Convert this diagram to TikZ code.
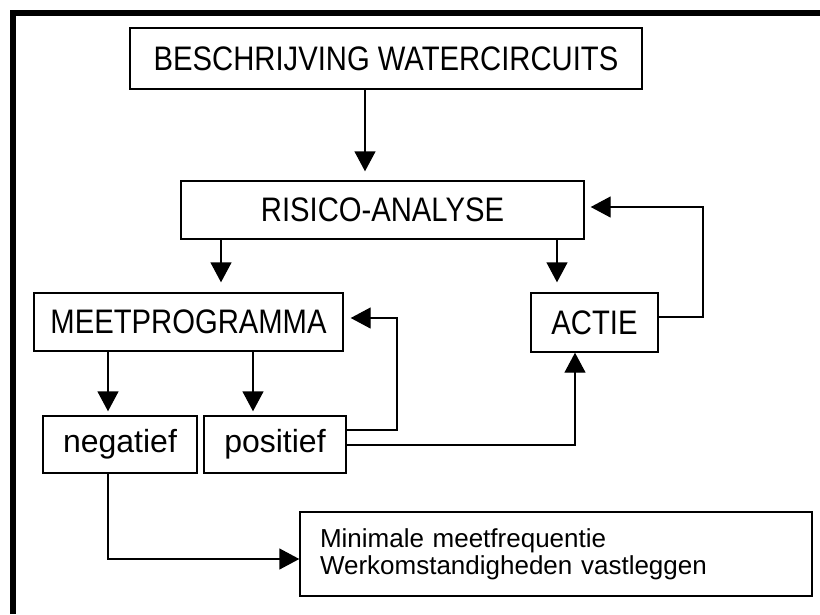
\documentclass[tikz,border=0pt]{standalone}
\usepackage{fontspec}
\setmainfont{Liberation Sans}
\newfontfamily\capsfont[FakeStretch=0.86]{Liberation Sans}
\usetikzlibrary{arrows.meta}

\begin{document}
\begin{tikzpicture}[x=1pt, y=-1pt,
    box/.style={draw, line width=1.4pt, inner sep=0pt, align=center},
    caps/.style={font=\capsfont\fontsize{34pt}{36pt}\selectfont},
    lower/.style={font=\fontsize{32pt}{36pt}\selectfont},
    flow/.style={-{Triangle[width=21pt, length=20pt]}, line width=1.4pt}]
        \useasboundingbox (0,0) rectangle (820,614);

        % Kader
        \draw[line width=6pt] (13,614) -- (13,13) -- (820,13);

        % Blokken
        \node[box, caps, minimum width=512pt, minimum height=61pt] (besch) at (386,58.5) {BESCHRIJVING WATERCIRCUITS};
        \node[box, caps, minimum width=403pt, minimum height=58pt] (risico) at (382.5,210) {RISICO-ANALYSE};
        \node[box, caps, minimum width=309pt, minimum height=58pt] (meet) at (188.5,322) {MEETPROGRAMMA};
        \node[box, caps, minimum width=127pt, minimum height=59pt] (actie) at (594.5,322.5) {ACTIE};
        \node[box, lower, minimum width=154pt, minimum height=57pt] (neg) at (120,444.5) {negatief};
        \node[box, lower, minimum width=142pt, minimum height=57pt] (pos) at (275,444.5) {positief};
        \node[box, align=left, text width=472pt, inner xsep=20pt, minimum height=84pt,
            font=\fontsize{26pt}{27pt}\selectfont] (minimal) at (556,554)
            {Minimale meetfrequentie\\Werkomstandigheden vastleggen};

        % Pijlen naar beneden
        \draw[flow, shorten >=9pt] (besch.south -| 365,0) -- (risico.north -| 365,0);
        \draw[flow, shorten >=10pt] (risico.south -| 221,0) -- (meet.north -| 221,0);
        \draw[flow, shorten >=10pt] (risico.south -| 557,0) -- (actie.north -| 557,0);
        \draw[flow, shorten >=4pt] (meet.south -| 108,0) -- (neg.north -| 108,0);
        \draw[flow, shorten >=4pt] (meet.south -| 253,0) -- (pos.north -| 253,0);

        % Terugkoppelingen
        \draw[flow, shorten >=6pt] (actie.east |- 0,317) -| (703,207) -- (risico.east |- 0,207);
        \draw[flow, shorten >=7pt] (pos.east |- 0,430) -| (397,318) -- (meet.east |- 0,318);
        \draw[flow] (pos.east |- 0,445) -| (actie.south -| 575,0);
        \draw[flow] (neg.south -| 108,0) |- (minimal.west |- 0,559);
    \end{tikzpicture}
\end{document}
